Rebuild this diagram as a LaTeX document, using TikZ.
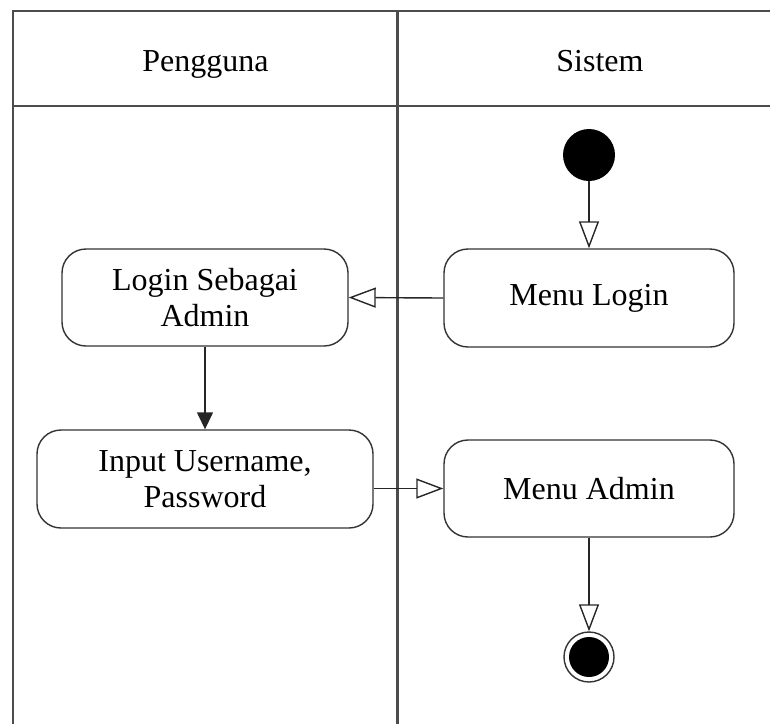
\documentclass[tikz,border=0pt]{standalone}
\usepackage{fontspec}
\setmainfont{Liberation Serif}
\usetikzlibrary{arrows.meta}
\begin{document}
\begin{tikzpicture}[x=1pt,y=-1pt,
  act/.style={draw=black!80, line width=1.4pt, rounded corners=24pt, align=center,
    font=\fontsize{32}{36}\selectfont, inner sep=0pt},
  lanehead/.style={font=\fontsize{32}{36}\selectfont, anchor=base},
  lane/.style={draw=black!70, line width=2.2pt},
  flow/.style={draw=black!85, line width=1.4pt},
  openarr/.style={-{Triangle[open, length=27pt, width=20pt, line width=1.4pt]}},
  solidarr/.style={-{Triangle[length=17pt, width=16pt]}},
]
\useasboundingbox (0,0) rectangle (770,724);
% swimlanes
\draw[lane] (13,724) -- (13,11) -- (770,11);
\draw[lane] (13,106) -- (770,106);
\draw[lane] (397.5,11) -- (397.5,724);
\node[lanehead] (h1) at (205.5,71) {Pengguna};
\node[lanehead] (h2) at (600,71) {Sistem};
% nodes
\node[circle, fill=black, minimum size=52pt, inner sep=0pt] (start) at (589,155) {};
\node[act, minimum width=290pt, minimum height=98pt] (login) at (589,298) {Menu Login};
\node[act, minimum width=286pt, minimum height=97pt] (lsa) at (205,297.5) {Login Sebagai\\Admin};
\node[act, minimum width=336pt, minimum height=98pt] (input) at (205,479) {Input Username,\\Password};
\node[act, minimum width=290pt, minimum height=97pt] (admin) at (589,488.5) {Menu Admin};
\node[circle, draw=black!80, line width=1.4pt, minimum size=50pt, inner sep=0pt,
  path picture={\fill[black] (path picture bounding box.center) circle (20pt);}] (end) at (589,657) {};
% connectors
\draw[flow, openarr] (start) -- (login);
\draw[flow, openarr] (login.west) -- (lsa.east);
\draw[flow, solidarr] (lsa) -- (input);
\draw[flow, openarr] (input.east |- admin.west) -- (admin.west);
\draw[flow, openarr] (admin) -- (end);
\end{tikzpicture}
\end{document}
